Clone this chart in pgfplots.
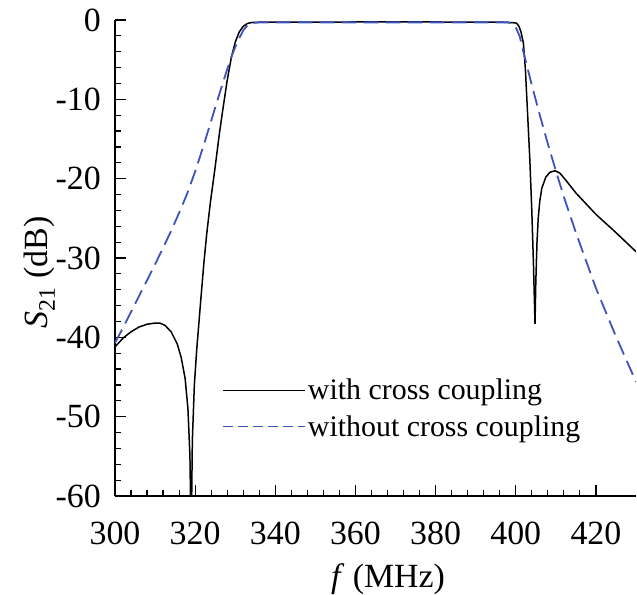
\documentclass[border=0pt]{standalone}
\usepackage{fontspec}
\setmainfont{Liberation Serif}
\usepackage{pgfplots}
\pgfplotsset{compat=1.18}
\definecolor{dblue}{RGB}{62,84,184}
\begin{document}
\begin{tikzpicture}
\begin{axis}[
  scale only axis, width=521bp, height=476bp,
  xmin=300, xmax=430, ymin=-60, ymax=0,
  axis x line=bottom, axis y line=left,
  axis line style={-, line width=1.2bp},
  tick align=inside,
  xtick={300,320,340,360,380,400,420},
  xticklabels={300,320,340,360,380,400,420},
  ytick={-60,-50,-40,-30,-20,-10,0},
  yticklabels={-60,-50,-40,-30,-20,-10,0},
  minor x tick num=4, minor y tick num=4,
  major tick length=11bp, minor tick length=6bp,
  every tick/.style={black, line width=1.2bp},
  tick label style={font=\fontsize{34}{38}\selectfont, inner sep=0pt},
  xticklabel style={anchor=base, yshift=-48bp},
  yticklabel style={anchor=east, xshift=-14bp},
  xlabel={\textit{f} (MHz)},
  ylabel={\textit{S}\textsubscript{21} (dB)},
  label style={font=\fontsize{34}{38}\selectfont},
  xlabel style={at={(axis description cs:0.524,-0.193)}, anchor=base},
  ylabel style={at={(axis description cs:-0.145,0.47)}, anchor=center, rotate=0},
  legend style={draw=none, fill=none, at={(axis cs:326.7,-45.0)}, anchor=north west,
    font=\fontsize{30}{34}\selectfont, row sep=10bp, inner sep=0pt,
    cells={anchor=west}},
  legend image code/.code={\draw[#1] (0bp,0bp) -- (68bp,0bp); \path (0bp,0bp) -- (82bp,0bp);},
]
\addlegendimage{black, line width=1.5bp}
\addlegendentry{with cross coupling}
\addlegendimage{dblue, line width=1.8bp, dash pattern=on 10bp off 5bp}
\addlegendentry{without cross coupling}
\addplot[black, line width=1.5bp, forget plot] coordinates {
(300,-41.2) (302,-40.1) (304,-39.3) (306,-38.7) (308,-38.35) (310,-38.2) (311.2,-38.2)
(312.5,-38.5) (314,-39.3) (315.5,-40.8) (316.5,-42.5) (317.5,-45.2) (318.2,-49) (318.7,-55)
(319.0,-66) (319.3,-53) (319.8,-46) (320.4,-41.5) (321.4,-35.3) (322.2,-30.5) (322.9,-26.9)
(323.8,-23.0) (325,-18.5) (326,-14.5) (326.9,-11.3) (328,-7.6) (329,-4.8) (330,-2.8)
(331,-1.5) (332,-0.8) (333,-0.45) (334,-0.32) (336,-0.28) (360,-0.25) (380,-0.25)
(396,-0.27) (398,-0.3) (399.5,-0.35) (400.2,-0.4) (400.8,-0.8) (401.3,-1.5) (401.9,-2.9)
(402.4,-6.2) (402.9,-11.3) (403.5,-17.5) (404,-24) (404.4,-30.5) (404.8,-38.3)
(405.0,-33) (405.3,-28) (405.6,-25) (406,-22.8) (406.5,-21.2) (407.5,-19.8) (408.5,-19.2)
(409.8,-19.0) (411,-19.3) (412.5,-20.2) (415,-21.8) (420,-24.5) (425,-26.8) (430,-29.2)
};
\addplot[dblue, line width=1.8bp, dash pattern=on 15bp off 7bp, forget plot] coordinates {
(300,-40.7) (302,-38.8) (304,-36.8) (306,-34.8) (308,-32.8) (310,-30.8) (312,-28.7)
(314,-26.6) (316,-24.3) (318,-21.9) (320,-19.1) (322,-16.0) (324,-12.7) (326,-9.4)
(327,-7.8) (328,-6.2) (329,-4.7) (330,-3.4) (331,-2.3) (332,-1.3) (333,-0.7) (334,-0.4)
(336,-0.3) (398,-0.3) (399,-0.45) (400,-0.9) (401,-2.1) (402,-4.2) (404,-8.2) (406,-12.0)
(408,-15.6) (410,-19.0) (412,-22.3) (415,-26.8) (420,-33.8) (425,-39.9) (430,-45.6)
};
\end{axis}
\pgfresetboundingbox
\path (-115bp,-99bp) rectangle (522bp,496bp);
\end{tikzpicture}
\end{document}
